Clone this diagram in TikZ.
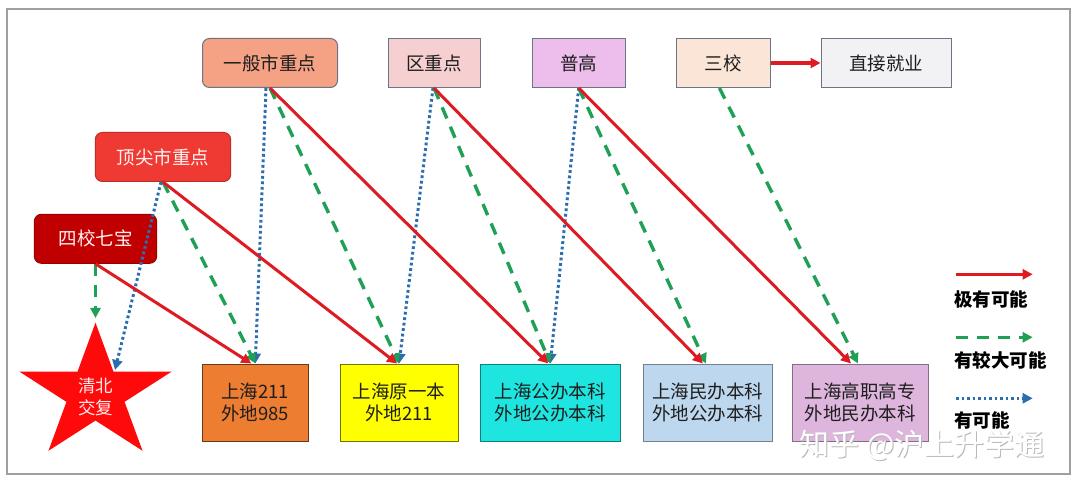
\documentclass[tikz,border=0pt]{standalone}
\usepackage{fontspec}
\setmainfont{Noto Sans CJK SC}
\usetikzlibrary{arrows.meta}
\definecolor{cgen}{HTML}{F4A184}
\definecolor{cqu}{HTML}{F6CFD0}
\definecolor{cpg}{HTML}{EDBDEB}
\definecolor{csx}{HTML}{FBE5D6}
\definecolor{cjy}{HTML}{F2F2F4}
\definecolor{ctop}{HTML}{EE3A33}
\definecolor{cs4}{HTML}{C00000}
\definecolor{cstar}{HTML}{FF0A0A}
\definecolor{cb1}{HTML}{ED7D31}
\definecolor{cb2}{HTML}{FFFF00}
\definecolor{cb3}{HTML}{1EE5E0}
\definecolor{cb4}{HTML}{BDD7EE}
\definecolor{cb5}{HTML}{DDB5DD}
\definecolor{lred}{HTML}{DE1B22}
\definecolor{lgrn}{HTML}{1FA055}
\definecolor{lblu}{HTML}{2B6EAD}
\definecolor{bord}{HTML}{6B7585}
\definecolor{txt}{HTML}{1E1E1E}
\tikzset{
  box/.style={draw=bord, line width=1pt, inner sep=0pt, align=center, text=txt,
    font=\fontsize{18.5}{21.8}\selectfont},
  rbox/.style={box, rounded corners=7pt},
  lowbox/.style={box, minimum height=77pt},
  toprow/.style={minimum height=49pt},
  redarr/.style={draw=lred, line width=3pt, -{Triangle[length=10pt,width=10pt]}},
  grnarr/.style={draw=lgrn, line width=3.4pt, dash pattern=on 12pt off 9pt, -{Triangle[length=10pt,width=10pt]}},
  bluarr/.style={draw=lblu, line width=3pt, dash pattern=on 2.8pt off 2.7pt, -{Triangle[length=10pt,width=10pt]}},
  legtxt/.style={anchor=west, inner sep=0pt, text=black, font=\fontsize{18.5}{20}\selectfont\bfseries}
}
\begin{document}
\begin{tikzpicture}[x=1pt, y=-1pt]
\fill[white] (0,0) rectangle (1080,489);
\useasboundingbox (0,0) rectangle (1080,489);
\draw[gray!75, line width=1.3pt] (7,9) rectangle (1070,474);

% top row
\node[rbox, toprow, fill=cgen, minimum width=135pt] (gen) at (270,63) {一般市重点};
\node[box, toprow, fill=cqu, minimum width=92pt] (qu) at (434,63) {区重点};
\node[box, toprow, fill=cpg, minimum width=93.4pt] (pg) at (578.7,63) {普高};
\node[box, toprow, fill=csx, minimum width=94pt] (sx) at (723.4,63) {三校};
\node[box, toprow, fill=cjy, minimum width=130pt] (jy) at (886,63) {直接就业};
\node[rbox, toprow, fill=ctop, draw=ctop!80!black, text=white!95!red, minimum width=135.3pt] (top) at (163,157) {顶尖市重点};
\node[rbox, toprow, fill=cs4, draw=cs4!80!black, text=white!95!red, minimum width=122.3pt] (s4) at (95.5,238.8) {四校七宝};

% star
\begin{scope}[shift={(95.5,393.5)}, xscale=1.13]
\fill[cstar] (-90:70.8) -- (-54:27.05) -- (-18:70.8) -- (18:27.05) -- (54:70.8) -- (90:27.05) -- (126:70.8) -- (162:27.05) -- (198:70.8) -- (234:27.05) -- cycle;
\end{scope}
\node[align=center, inner sep=0pt, text=white!92!red, font=\fontsize{17.5}{22}\selectfont] (qb) at (95.5,397) {清北\\交复};

% bottom row
\node[lowbox, fill=cb1, draw=cb1!45!black, minimum width=106pt] (b1) at (255.3,402.5) {上海211\\外地985};
\node[lowbox, fill=cb2, draw=cb2!45!black, minimum width=117.8pt] (b2) at (399.1,402.5) {上海原一本\\外地211};
\node[lowbox, fill=cb3, draw=cb3!55!black, minimum width=139.8pt] (b3) at (550.3,402.5) {上海公办本科\\外地公办本科};
\node[lowbox, fill=cb4, draw=cb4!60!black, minimum width=129.1pt] (b4) at (707.9,402.5) {上海民办本科\\外地公办本科};
\node[lowbox, fill=cb5, draw=cb5!60!black, minimum width=136pt] (b5) at (860,402.5) {上海高职高专\\外地民办本科};

% arrows
\draw[redarr, line width=3.6pt] (sx.east) -- (jy.west);

\draw[bluarr] ([xshift=-2pt]top.south) -- ([xshift=19.5pt,yshift=27pt]qb.center);
\draw[bluarr] ([xshift=-4pt]gen.south) -- (b1.north);
\draw[bluarr] ([xshift=-1pt]qu.south) -- (b2.north);
\draw[bluarr] (pg.south) -- (b3.north);

\draw[grnarr] (s4.south) -- ([yshift=79pt]qb.center);
\draw[grnarr] (top.south) -- (b1.north);
\draw[grnarr] (gen.south) -- (b2.north);
\draw[grnarr] (qu.south) -- (b3.north);
\draw[grnarr] (pg.south) -- ([xshift=-2pt]b4.north);
\draw[grnarr] ([xshift=-4pt]sx.south) -- ([xshift=-2pt]b5.north);

\draw[redarr] (s4.south) -- ([xshift=-4pt]b1.north);
\draw[redarr] (top.south) -- ([xshift=-2pt]b2.north);
\draw[redarr] (gen.south) -- ([xshift=-2pt]b3.north);
\draw[redarr] (qu.south) -- ([xshift=-5pt]b4.north);
\draw[redarr] (pg.south) -- ([xshift=-9pt]b5.north);

% legend
\coordinate (l1a) at (956,274.3); \coordinate (l1b) at (1032.7,274.3);
\coordinate (l2a) at (956,337.3); \coordinate (l2b) at (1032.7,337.3);
\coordinate (l3a) at (956,398.3); \coordinate (l3b) at (1032.7,398.3);
\draw[redarr] (l1a) -- (l1b);
\draw[grnarr] (l2a) -- (l2b);
\draw[bluarr] (l3a) -- (l3b);
\node[legtxt] (t1) at (954,299.3) {极有可能};
\node[legtxt] (t2) at (954,360) {有较大可能};
\node[legtxt] (t3) at (954,420.7) {有可能};

% watermark
\node[inner sep=0pt, text=gray!55, font=\fontsize{30}{32}\selectfont] (wm0) at (923,446) {知乎 @沪上升学通};
\node[inner sep=0pt, text=white, font=\fontsize{30}{32}\selectfont] (wm) at (922,445) {知乎 @沪上升学通};
\end{tikzpicture}
\end{document}
